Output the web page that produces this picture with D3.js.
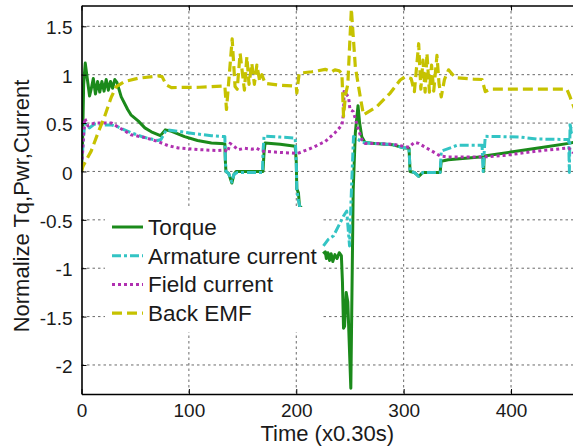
<!DOCTYPE html>
<html>
<head>
<meta charset="utf-8">
<script src="https://cdn.jsdelivr.net/npm/d3@7"></script>
<style>
  body { margin: 0; background: #fff; }
  text { font-family: "Liberation Sans", Arial, sans-serif; fill: #1a1a1a; }
  .grid line { stroke: #6a6a6a; stroke-width: 1; stroke-dasharray: 2.5,3; }
</style>
</head>
<body>
<div id="chart"></div>
<script>
// ---- data: [time sample, normalized value]; null marks a gap
const torque = [
  [0,0],[1,0.3],[2,0.9],[3.5,1.12],[5.5,0.95],[7.5,0.78],[9,0.85],[11,0.96],[13,0.8],[15,0.93],
  [17,0.82],[19,0.93],[21,0.83],[23,0.95],[25,0.84],[27,0.93],[29,0.86],[31,0.95],[33,0.92],
  [37,0.77],[43,0.64],[46,0.585],[53,0.52],[59,0.45],[65,0.41],[73.5,0.37],[78,0.43],[84,0.415],
  [96,0.36],[108,0.32],[121,0.295],[133.5,0.285],[134,0.1],[134.5,0],[137,-0.02],[140,-0.12],
  [142,-0.03],[144,0],[169,0],[170,0.2],[171,0.295],[185,0.28],[199,0.26],[200,0.1],[200.5,-0.18],
  [202,-0.22],[203,-0.36],[205,-0.375],[206,null],
  [225,-0.85],[227,-0.83],[228,-0.9],[229.5,-0.84],[231,-0.92],[232.5,-0.85],[234,-0.93],[236,-0.86],
  [238,-0.9],[240,-0.84],[242,-0.87],[243,-1.14],[244,-1.62],[245,-1.6],[246.5,-1.25],[248,-1.35],
  [250.8,-2.24],[253,-0.2],[255,0.4],[257.5,0.68],[259,0.5],[261,0.36],[264,0.3],[273,0.29],
  [290,0.275],[300,0.245],[305,0.24],[306,0.0],[310,-0.01],[314,-0.05],[318,-0.01],[334,-0.01],
  [335,0.105],[341.5,0.12],[371,0.15],[374,0.15],[374.5,0.0],[375,0.16],[400,0.2],[430,0.25],
  [453.5,0.29],[458,0.3]
];
const armature = [
  [0,0],[1.5,0.3],[3,0.5],[7.5,0.45],[12,0.49],[20,0.48],[28,0.48],[34,0.46],[46,0.4],[59,0.35],
  [71,0.32],[74,0.33],[76,0.37],[79,0.43],[90,0.415],[105.5,0.39],[121,0.37],[133.5,0.36],
  [134,0.1],[134.5,0],[137,-0.02],[140,-0.11],[142,-0.03],[145,-0.01],[168.5,-0.01],[169,0.2],
  [170,0.365],[185,0.355],[199,0.345],[200,0.1],[200.5,-0.18],[202,-0.3],[203.5,-0.375],[204,null],
  [225.3,-0.77],[230,-0.7],[234.7,-0.665],[240,-0.55],[244,-0.46],[247,-0.41],[249.6,-0.77],
  [251,-0.3],[253.3,0.36],[258,0.33],[261,0.3],[273,0.29],[290,0.275],[300,0.245],[305,0.24],
  [306,0.0],[310,-0.01],[314,-0.05],[318,-0.01],[334,-0.01],[335,0.21],[345,0.25],[349.7,0.27],
  [373,0.27],[374,0.0],[375,0.2],[376,0.363],[390,0.36],[408.7,0.355],[424,0.335],[453.7,0.33],
  [454.3,-0.01],[455,0.5],[456,0.4],[458,0.45]
];
const field = [
  [0,0],[1.5,0.3],[3,0.55],[6,0.47],[12,0.5],[20,0.5],[28,0.5],[34,0.46],[46,0.38],[59,0.35],
  [71,0.31],[80.6,0.267],[90,0.243],[108.6,0.226],[127,0.216],[133.5,0.22],[136,0.2],[138.4,0.29],
  [142,0.26],[146,0.225],[152,0.24],[158.6,0.23],[163,0.24],[168,0.21],[180,0.2],[196,0.19],
  [201,0.185],[214.5,0.243],[227,0.31],[236,0.4],[242.6,0.48],[244,0.6],[244.5,0.825],[248.7,0.77],
  [250,0.64],[253,0.62],[258,0.43],[261,0.33],[264,0.29],[275,0.29],[290.6,0.28],[300,0.26],
  [305,0.25],[310,0.3],[314,0.29],[321.7,0.24],[328,0.2],[334,0.16],[341,0.15],[374.5,0.15],
  [393,0.165],[424,0.21],[453.7,0.243],[458,0.19]
];
const backEmf = [
  [0,0],[1.4,0.055],[9,0.21],[15.4,0.4],[21.6,0.57],[27.8,0.77],[32.4,0.877],[40.3,0.93],
  [52.7,0.963],[71.3,0.987],[75,0.98],[79,0.894],[83.7,0.867],[110,0.87],[133.5,0.884],[135,0.64],
  [138,1.05],[140.3,1.37],[143,0.877],[145,0.85],[147.7,1.22],[151.7,0.84],[154,1.185],[156,0.9],
  [158.6,1.117],[161,0.9],[163.3,1.1],[166,0.93],[168,1.0],[171,0.91],[185,0.89],[196,0.884],
  [200,0.88],[200.5,0.81],[202.7,1.015],[214.5,1.03],[220,1.04],[227,1.055],[233,1.03],[236,1.05],
  [240,1.04],[242.5,1.01],[244,0.57],[246,0.8],[248,0.9],[251.3,1.68],[255,1.08],[259.6,0.77],
  [262.6,0.585],[275,0.67],[287.5,0.81],[296.8,0.945],[301.5,0.98],[307,0.96],[310,0.825],
  [314,1.32],[316,0.85],[318,1.15],[320,0.82],[321.7,1.22],[324,0.82],[326,1.1],[328,0.83],
  [331,1.2],[333,0.9],[335,0.77],[338,0.95],[341.8,1.05],[348,0.97],[365,0.955],[373,0.95],
  [376,0.825],[380.7,0.85],[452,0.85],[455,0.77],[459,0.65]
];

const seriesNames = ["Torque", "Armature current", "Field current", "Back EMF"];
const xTicks = [0, 100, 200, 300, 400];
const yTicks = [-2, -1.5, -1, -0.5, 0, 0.5, 1, 1.5];

const series = [
  { name: seriesNames[0], data: torque,   color: "#1b8a1b", dash: null,      width: 3 },
  { name: seriesNames[1], data: armature, color: "#33c4c4", dash: "9,3,3,3", width: 3 },
  { name: seriesNames[2], data: field,    color: "#b030b0", dash: "3,3",     width: 3 },
  { name: seriesNames[3], data: backEmf,  color: "#c6c200", dash: "10,5",    width: 3.2 }
];

const W = 573, H = 448;
const mLeft = 81.5, mRight = 573, mTop = 5.5, mBottom = 394;

const svg = d3.select("#chart").append("svg")
  .attr("width", W).attr("height", H);

const x = d3.scaleLinear().domain([0, 457.7]).range([mLeft, mRight]);
const y = d3.scaleLinear().domain([-2.3, 1.715]).range([mBottom, mTop]);

svg.append("clipPath").attr("id", "clip")
  .append("rect").attr("x", mLeft).attr("y", mTop)
  .attr("width", mRight - mLeft).attr("height", mBottom - mTop);

// grid
const grid = svg.append("g").attr("class", "grid");
grid.selectAll(".gx").data(xTicks.filter(d => d > 0)).enter().append("line")
  .attr("x1", d => x(d)).attr("x2", d => x(d)).attr("y1", mTop).attr("y2", mBottom);
grid.selectAll(".gy").data(yTicks).enter().append("line")
  .attr("x1", mLeft).attr("x2", mRight).attr("y1", d => y(d)).attr("y2", d => y(d));

// series
const line = d3.line()
  .defined(d => d[1] !== null)
  .x(d => x(d[0])).y(d => y(d[1]));

const plot = svg.append("g").attr("clip-path", "url(#clip)");
series.forEach(s => {
  plot.append("path")
    .datum(s.data)
    .attr("d", line)
    .attr("fill", "none")
    .attr("stroke", s.color)
    .attr("stroke-width", s.width)
    .attr("stroke-linejoin", "round")
    .attr("stroke-dasharray", s.dash);
});

// axes
const fmt = d => String(d);
const xAxis = d3.axisBottom(x).tickValues(xTicks).tickFormat(fmt).tickSizeInner(-5).tickSizeOuter(0).tickPadding(10);
const yAxis = d3.axisLeft(y).tickValues(yTicks).tickFormat(fmt).tickSizeInner(-5).tickSizeOuter(0).tickPadding(9);
const xTop = d3.axisTop(x).tickValues(xTicks).tickSizeInner(-5).tickSizeOuter(0).tickFormat("");

const gx = svg.append("g").attr("transform", `translate(0,${mBottom})`).call(xAxis);
const gy = svg.append("g").attr("transform", `translate(${mLeft},0)`).call(yAxis);
const gt = svg.append("g").attr("transform", `translate(0,${mTop})`).call(xTop);

[gx, gy, gt].forEach(g => {
  g.select(".domain").attr("stroke", "#000").attr("stroke-width", 1.6);
  g.selectAll(".tick line").attr("stroke", "#000").attr("stroke-width", 1);
  g.selectAll(".tick text").attr("font-size", 19).attr("fill", "#1a1a1a")
    .attr("font-family", "Liberation Sans, Arial, sans-serif");
});
gy.selectAll(".tick text").attr("dy", "0.4em");

// axis titles
svg.append("text")
  .attr("x", (mLeft + mRight) / 2).attr("y", 441)
  .attr("text-anchor", "middle").attr("font-size", 22)
  .text("Time (x0.30s)");

svg.append("text")
  .attr("transform", "translate(28.5,206) rotate(-90)")
  .attr("text-anchor", "middle").attr("font-size", 22)
  .text("Normalize Tq,Pwr,Current");

// legend
const legend = svg.append("g");
legend.append("rect")
  .attr("x", 105).attr("y", 207).attr("width", 217).attr("height", 125)
  .attr("fill", "#fff");
series.forEach((s, i) => {
  const ly = 227 + i * 28.7;
  legend.append("line")
    .attr("x1", 112).attr("x2", 143).attr("y1", ly).attr("y2", ly)
    .attr("stroke", s.color).attr("stroke-width", s.width)
    .attr("stroke-dasharray", s.dash);
  legend.append("text")
    .attr("x", 148).attr("y", ly + 8)
    .attr("font-size", 22.5)
    .text(s.name);
});
</script>
</body>
</html>
